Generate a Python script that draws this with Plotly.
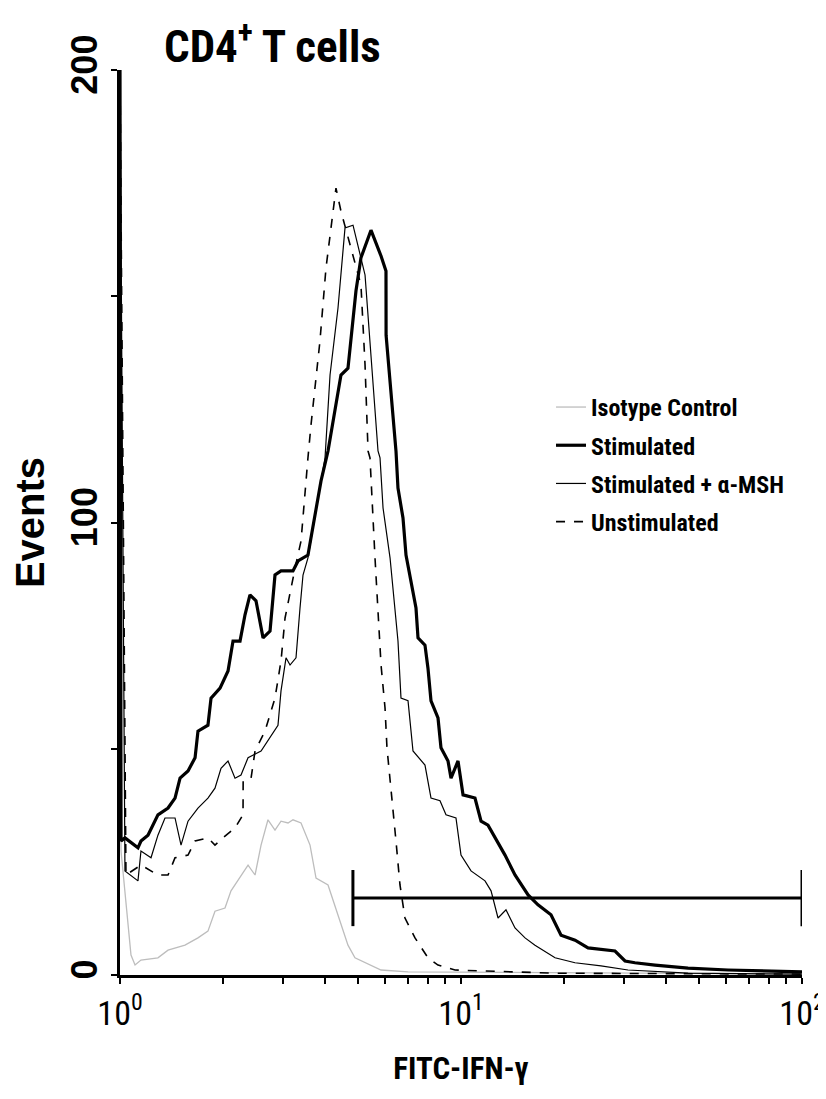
import plotly.graph_objects as go

# ---- data (FITC-IFN-gamma intensity, events) ----
stim_x = [1.0, 1.007, 1.034, 1.129, 1.152, 1.208, 1.292, 1.383, 1.450, 1.500, 1.583, 1.660,
          1.693, 1.811, 1.849, 1.965, 2.074, 2.145, 2.249, 2.326, 2.405, 2.505, 2.627, 2.754,
          2.848, 2.966, 3.216, 3.327, 3.558, 3.886, 4.074, 4.358, 4.446, 4.662, 4.921, 5.089,
          5.445, 5.828, 6.026, 6.030, 6.233, 6.447, 6.534, 6.759, 6.898, 7.379, 7.480, 7.841,
          8.001, 8.166, 8.562, 8.736, 9.160, 9.348, 9.80, 10.14, 10.99, 11.45, 12.00, 12.58,
          13.46, 14.40, 15.73, 16.82, 18.36, 19.65, 21.60, 23.58, 28.29, 30.27, 32.37, 37.06,
          46.32, 60.67, 79.4, 100.0]
stim_y = [200, 29.6, 30.3, 28.1, 29.6, 30.9, 35.4, 36.9, 39.1, 43.5, 45.1, 48.0,
          53.9, 55.2, 61.2, 63.4, 67.2, 73.8, 73.8, 79.6, 84.0, 82.7, 74.5, 76.0,
          88.4, 89.3, 89.3, 91.5, 92.8, 109.2, 115.8, 129.1, 132.6, 134.1, 151.2, 158.5,
          164.6, 158.9, 155.6, 141.4, 129.1, 115.8, 107.6, 101.0, 92.8, 81.1, 74.5, 72.9,
          67.8, 60.6, 56.8, 50.2, 47.3, 43.5, 47.3, 39.8, 39.1, 34.0, 33.1, 30.3,
          26.5, 22.1, 17.7, 15.5, 13.3, 8.8, 7.7, 6.0, 5.3, 3.1, 2.7, 2.2,
          1.5, 1.1, 0.9, 0.7]

msh_x = [1.0, 1.034, 1.129, 1.152, 1.233, 1.292, 1.355, 1.450, 1.510, 1.583, 1.693, 1.811,
         1.899, 1.978, 2.074, 2.174, 2.264, 2.374, 2.592, 2.906, 2.966, 3.068, 3.152, 3.282,
         3.372, 3.441, 3.558, 3.993, 4.130, 4.358, 4.569, 4.823, 5.231, 5.447, 5.710, 5.788,
         5.907, 6.193, 6.406, 6.534, 6.668, 6.992, 7.231, 7.841, 8.166, 8.678, 9.036, 9.667,
         10.0, 10.70, 11.76, 12.25, 12.84, 13.55, 14.40, 15.41, 16.48, 18.87, 21.60, 25.74,
         30.88, 46.32, 100.0]
msh_y = [200, 23.0, 20.8, 27.4, 25.9, 30.9, 34.7, 34.7, 28.7, 34.0, 36.9, 39.1,
         41.3, 45.7, 47.3, 43.5, 44.2, 48.0, 49.5, 55.2, 62.8, 70.1, 68.5, 70.1,
         81.1, 88.4, 92.2, 114.3, 132.6, 147.4, 165.1, 165.7, 154.7, 136.4, 115.8, 114.3,
         103.2, 92.2, 81.1, 73.8, 61.2, 60.6, 49.5, 46.4, 39.1, 38.5, 35.4, 34.7,
         26.5, 23.0, 20.8, 18.6, 12.6, 14.4, 10.4, 8.2, 6.6, 3.8, 2.7, 2.0,
         1.1, 0.4, 0.2]

unst_x = [1.0, 1.041, 1.152, 1.292, 1.383, 1.450, 1.583, 1.660, 1.811, 1.899, 2.032, 2.174,
          2.295, 2.297, 2.423, 2.489, 2.662, 2.848, 2.966, 3.048, 3.261, 3.395, 3.558, 3.631,
          3.858, 4.018, 4.299, 4.446, 5.089, 5.231, 5.338, 5.409, 5.595, 5.710, 5.828, 5.987,
          6.066, 6.447, 6.623, 6.851, 7.330, 8.001, 8.562, 9.603, 12.00, 18.87, 100.0]
unst_y = [200, 22.1, 24.3, 22.1, 22.1, 25.9, 26.5, 29.6, 30.3, 28.7, 30.7, 32.5,
          35.4, 42.9, 43.5, 49.5, 53.9, 61.2, 69.4, 78.9, 89.9, 95.9, 114.3, 121.5,
          140.1, 156.2, 173.9, 168.8, 152.5, 134.8, 115.8, 114.3, 92.2, 78.9, 68.5, 59.0,
          50.2, 29.6, 19.9, 12.6, 8.2, 3.8, 2.2, 1.1, 0.9, 0.4, 0.2]

iso_x = [1.0, 1.007, 1.077, 1.107, 1.152, 1.292, 1.383, 1.551, 1.693, 1.811, 1.899, 2.032,
         2.116, 2.264, 2.374, 2.489, 2.592, 2.716, 2.848, 2.966, 3.110, 3.216, 3.395, 3.608,
         3.757, 4.074, 4.358, 4.662, 4.887, 5.445, 5.828, 6.992, 100.0]
iso_y = [200, 27.4, 4.4, 2.2, 3.3, 3.8, 5.5, 6.6, 8.2, 9.7, 14.1, 14.8,
         18.6, 22.1, 24.3, 22.1, 28.7, 34.3, 32.0, 34.0, 33.6, 34.3, 33.6, 28.7,
         21.4, 19.9, 13.3, 6.6, 3.8, 2.2, 1.1, 0.7, 0.2]

# gate marker (x range and height, end-tick span)
gate_x = [4.82, 100.0]
gate_y = 17.0
gate_tick = [10.8, 23.2]

x_tickvals = [1, 10, 100]
x_ticktext = ["10<sup>0</sup>", "10<sup>1</sup>", "10<sup>2</sup>"]
x_minorvals = [2, 3, 4, 5, 6, 7, 8, 9, 20, 30, 40, 50, 60, 70, 80, 90]
y_tickvals = [0, 100, 200]
y_ticktext = ["0", "100", "200"]
y_minorvals = [50, 150]

NARROW = "Liberation Sans Narrow, Arial Narrow, Roboto Condensed, Roboto, Liberation Sans, sans-serif"
BOLD = "Liberation Sans, Arial, sans-serif"

fig = go.Figure()
fig.add_trace(go.Scatter(x=iso_x, y=iso_y, mode="lines", name="Isotype Control",
                         line=dict(color="#bdbdbd", width=1.3), legendgroup="a", legendrank=1))
fig.add_trace(go.Scatter(x=unst_x, y=unst_y, mode="lines", name="Unstimulated",
                         line=dict(color="black", width=1.6, dash="dash"), legendgroup="d",
                         legendrank=4))
fig.add_trace(go.Scatter(x=msh_x, y=msh_y, mode="lines", name="Stimulated + \u03b1-MSH",
                         line=dict(color="black", width=1.2), legendgroup="c", legendrank=3))
fig.add_trace(go.Scatter(x=stim_x, y=stim_y, mode="lines", name="Stimulated",
                         line=dict(color="black", width=3.2), legendgroup="b", legendrank=2))

# gate bar
fig.add_trace(go.Scatter(
    x=[gate_x[0], gate_x[1], None, gate_x[0], gate_x[0], None, gate_x[1], gate_x[1]],
    y=[gate_y, gate_y, None, gate_tick[0], gate_tick[1], None, gate_tick[0], gate_tick[1]],
    mode="lines", line=dict(color="black", width=3), showlegend=False, hoverinfo="skip"))

fig.update_layout(
    width=826, height=1099,
    margin=dict(l=112, r=32, t=62, b=132),
    paper_bgcolor="white", plot_bgcolor="white",
    showlegend=True,
    legend=dict(x=0.632, y=0.652, xanchor="left", yanchor="top",
                font=dict(family=NARROW, size=24, color="black", weight="bold"),
                bgcolor="rgba(0,0,0,0)", tracegroupgap=4, traceorder="grouped"),
    annotations=[dict(text="CD4<sup>+</sup> T cells", xref="paper", yref="paper",
                      x=0.062, y=1.029, xanchor="left", yanchor="middle", showarrow=False,
                      font=dict(family=NARROW, size=45, color="black", weight="bold"))],
)
fig.update_xaxes(type="log", range=[0, 2], showgrid=False, zeroline=False, automargin=False,
                 showline=True, linecolor="black", linewidth=2.5,
                 ticks="outside", ticklen=6, tickwidth=2, tickcolor="black",
                 tickmode="array", tickvals=x_tickvals, ticktext=x_ticktext,
                 minor=dict(tickmode="array", tickvals=x_minorvals, ticks="outside",
                            ticklen=6, tickwidth=2, tickcolor="black"),
                 tickfont=dict(family=NARROW, size=34, color="black"),
                 title=dict(text="FITC-IFN-\u03b3",
                            font=dict(family=NARROW, size=31, color="black", weight="bold"),
                            standoff=26))
fig.update_yaxes(range=[0, 200], showgrid=False, zeroline=False, automargin=False,
                 showline=True, linecolor="black", linewidth=3,
                 ticks="outside", ticklen=6, tickwidth=2, tickcolor="black",
                 tickmode="array", tickvals=y_tickvals, ticktext=y_ticktext,
                 minor=dict(tickmode="array", tickvals=y_minorvals, ticks="outside",
                            ticklen=6, tickwidth=2, tickcolor="black"),
                 tickangle=-90,
                 tickfont=dict(family=BOLD, size=36, color="black", weight="bold"),
                 title=dict(text="<b>Events</b>", font=dict(family=BOLD, size=40, color="black"),
                            standoff=14))

fig.write_html("out.html")
